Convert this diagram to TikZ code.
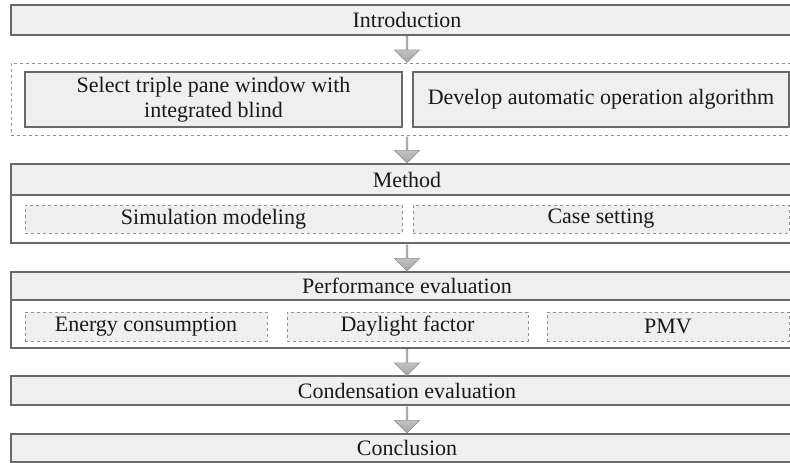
\documentclass[tikz,border=0pt]{standalone}
\usepackage{fontspec}
\setmainfont{Liberation Serif}
\usepackage{tikz}
\usetikzlibrary{positioning}
\usetikzlibrary{calc, shapes.arrows}
\definecolor{boxgray}{RGB}{239,239,239}
\definecolor{linegray}{RGB}{105,105,105}
\definecolor{dashgray}{RGB}{145,145,145}

\begin{document}
\begin{tikzpicture}[x=1pt, y=-1pt]
	\tikzstyle{every node}=[font=\fontsize{22}{25}\selectfont, text=black!90, inner sep=0pt, outer sep=0pt]
	\tikzstyle{headbox}=[draw=linegray, line width=1.4pt, fill=boxgray, minimum width=792pt]
	\tikzstyle{bodybox}=[draw=linegray, line width=1.4pt, minimum width=792pt]
	\tikzstyle{stagebox}=[draw=dashgray, dashed, line width=0.8pt, minimum width=792pt, minimum height=72pt]
	\tikzstyle{taskbox}=[draw=linegray, line width=1.4pt, fill=boxgray, minimum height=55pt, align=center]
	\tikzstyle{itembox}=[draw=dashgray, dashed, line width=0.8pt, fill=boxgray]
	\tikzstyle{flowarrow}=[single arrow, shape border rotate=270, minimum height=26pt, minimum width=25pt, single arrow head extend=5.5pt, top color=gray!25, bottom color=gray!70, draw=gray!85, line width=0.7pt]

	\useasboundingbox (0,0) rectangle (790,463);
	\clip (0,0) rectangle (790,463);

	\node[headbox, minimum height=30pt, anchor=north west] (intro) at (11,5) {Introduction};
	\node[stagebox, below=28pt of intro] (stage) {};
	\node[taskbox, minimum width=377pt, anchor=north west] (select) at (25,72) {Select triple pane window with\\integrated blind};
	\node[taskbox, minimum width=376pt, right=11pt of select] (develop) {Develop automatic operation algorithm};

	\node[headbox, minimum height=31pt, below=29pt of stage] (method) {Method};
	\node[bodybox, minimum height=48pt, below=0pt of method] (methodbody) {};
	\node[itembox, minimum width=377pt, minimum height=28pt, anchor=north west] (simulation) at (25,205) {Simulation modeling};
	\node[itembox, minimum width=376pt, minimum height=28pt, right=11pt of simulation] (case) {Case setting};

	\node[headbox, minimum height=28pt, below=29pt of methodbody] (performance) {Performance evaluation};
	\node[bodybox, minimum height=48pt, below=0pt of performance] (performancebody) {};
	\node[itembox, minimum width=242pt, minimum height=29pt, anchor=north west] (energy) at (25,312) {Energy consumption};
	\node[itembox, minimum width=241pt, minimum height=29pt, right=20pt of energy] (daylight) {Daylight factor};
	\node[itembox, minimum width=242pt, minimum height=29pt, right=19pt of daylight] (pmv) {PMV};

	\node[headbox, minimum height=29pt, below=28pt of performancebody] (condensation) {Condensation evaluation};
	\node[headbox, minimum height=28pt, below=29pt of condensation] (conclusion) {Conclusion};

	\foreach \a/\b in {intro/stage, stage/method, methodbody/performance, performancebody/condensation, condensation/conclusion}
		\node[flowarrow] (to-\b) at ($(\a.south)!.5!(\b.north)$) {};
\end{tikzpicture}
\end{document}
